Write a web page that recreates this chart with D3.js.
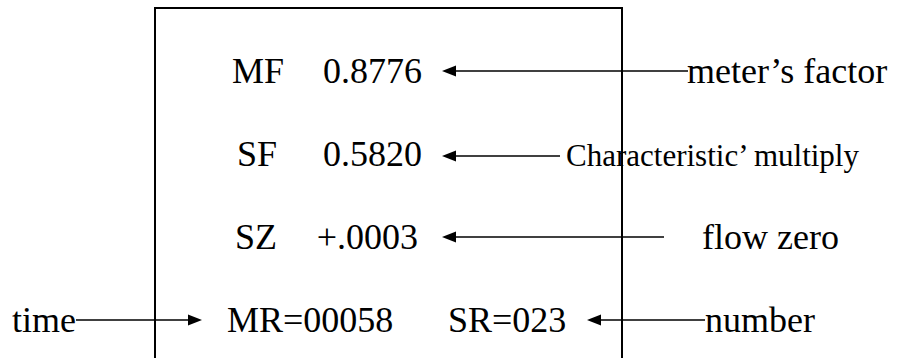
<!DOCTYPE html>
<html>
<head>
<meta charset="utf-8">
<script src="https://cdn.jsdelivr.net/npm/d3@7"></script>
<style>
  body { margin: 0; background: #fff; }
  svg { display: block; }
</style>
</head>
<body>
<svg id="chart"></svg>
<script>
(function() {

  let w = 903;
  let h = 358;

  // display readings
  let codes = ["MF", "SF", "SZ"];
  let readings = ["0.8776", "0.5820", "+.0003"];
  let notes = ["meter’s factor", "Characteristic’ multiply", "flow zero"];
  let counters = ["MR=00058", "SR=023"];
  let counterNotes = ["time", "number"];

  // layout (pixels)
  let codeX = [232, 237, 235];
  let readX = [422, 422, 418];        // right edge of the reading
  let noteX = [687, 566, 702];
  let noteSize = [36, 31, 36];
  let lineEnd = [688, 560, 664];
  let tipX = 442;
  let fontSize = 36;
  let font = "Liberation Serif";

  let svg = d3.select("#chart").attr("width", w).attr("height", h);

  // row baselines
  let yScale = d3.scalePoint()
                 .domain(d3.range(4))
                 .range([83, 332]);
  let lift = 12; // arrow sits above baseline

  // the panel outline (open at the bottom)
  svg.append("path")
     .attr("d", "M155," + (h + 10) + "V8H622V" + (h + 10))
     .attr("fill", "none")
     .attr("stroke", "#000")
     .attr("stroke-width", 2);

  function label(x, y, s, size) {
    return svg.append("text")
              .attr("x", x).attr("y", y)
              .attr("font-family", font)
              .attr("font-size", size || fontSize)
              .attr("fill", "#000")
              .text(s);
  }

  function arrow(x1, x2, y) {
    // line from x1 to x2, head at x2
    let dir = x2 > x1 ? 1 : -1;
    let hl = 14, hw = 5.5;
    svg.append("line")
       .attr("x1", x1).attr("y1", y)
       .attr("x2", x2 - dir * hl * 0.8).attr("y2", y)
       .attr("stroke", "#000")
       .attr("stroke-width", 1.5);
    svg.append("path")
       .attr("d", "M" + x2 + "," + y +
                  "L" + (x2 - dir * hl) + "," + (y - hw) +
                  "L" + (x2 - dir * hl) + "," + (y + hw) + "Z")
       .attr("fill", "#000");
  }

  codes.forEach((d, i) => {
    let y = yScale(i);
    label(codeX[i], y, d);
    label(readX[i], y, readings[i]).attr("text-anchor", "end");
    label(noteX[i], y, notes[i], noteSize[i]);
    arrow(lineEnd[i], tipX, y - lift + (i == 1 ? 2 : 0));
  });

  // bottom row: counters
  let y4 = yScale(3);
  label(227, y4, counters[0]);
  label(448, y4, counters[1]);

  label(12, y4, counterNotes[0]);
  arrow(76, 202, y4 - lift);

  label(705, y4, counterNotes[1]);
  arrow(705, 587, y4 - lift);

})();
</script>
</body>
</html>
